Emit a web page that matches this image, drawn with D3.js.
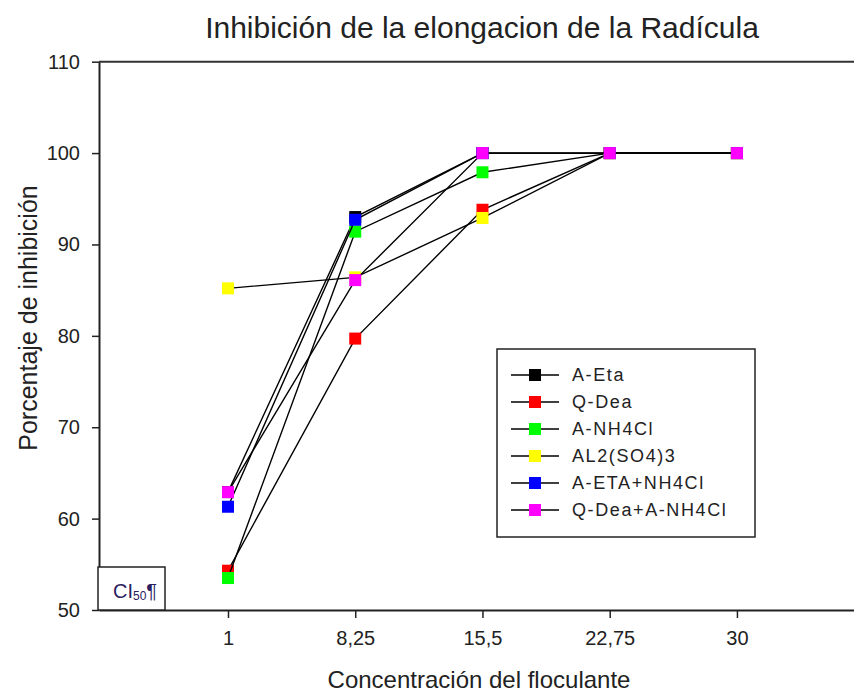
<!DOCTYPE html>
<html><head><meta charset="utf-8">
<script src="https://cdn.jsdelivr.net/npm/d3@7"></script>
<style>body{margin:0;background:#fff}svg{display:block}text{font-family:"Liberation Sans",Arial,sans-serif}</style>
</head><body>
<svg id="c" width="854" height="695"></svg>
<script>
const xValues = [1, 8.25, 15.5, 22.75, 30];
const xTickLabels = ["1", "8,25", "15,5", "22,75", "30"];
const yTicks = [50, 60, 70, 80, 90, 100, 110];
const seriesNames = ["A-Eta", "Q-Dea", "A-NH4Cl", "AL2(SO4)3", "A-ETA+NH4Cl", "Q-Dea+A-NH4Cl"];
const legendLabels = ["A-Eta", "Q-Dea", "A-NH4Cl", "AL2(SO4)3", "A-ETA+NH4Cl", "Q-Dea+A-NH4Cl"];
const seriesColors = ["#000000", "#ff0000", "#00ff00", "#ffff00", "#0000ff", "#ff00ff"];
const aEta = [62.9, 93.0, 100, 100, 100];
const qDea = [54.3, 79.7, 93.8, 100, 100];
const aNH4Cl = [53.5, 91.4, 97.9, 100, 100];
const al2SO43 = [85.2, 86.4, 92.9, 100, 100];
const aEtaNH4Cl = [61.3, 92.7, 100, 100, 100];
const qDeaANH4Cl = [62.9, 86.1, 100, 100, 100];
const seriesValues = [aEta, qDea, aNH4Cl, al2SO43, aEtaNH4Cl, qDeaANH4Cl];

const svg = d3.select("#c");
const x = d3.scaleLinear().domain([-6.35, 36.67]).range([99, 854]);
const y = d3.scaleLinear().domain([50, 110]).range([610, 61.7]);

// title
svg.append("text").attr("x", 482).attr("y", 38).attr("text-anchor", "middle")
  .attr("font-size", 30).attr("fill", "#222")
  .text("Inhibición de la elongacion de la Radícula");

// top frame line
svg.append("line").attr("x1", x.range()[0]).attr("x2", x.range()[1])
  .attr("y1", y(110)).attr("y2", y(110)).attr("stroke", "#333").attr("stroke-width", 2);

// axes
const xAxis = d3.axisBottom(x).tickValues(xValues).tickFormat((d, i) => xTickLabels[i])
  .tickSizeInner(8).tickSizeOuter(0).tickPadding(13);
const gx = svg.append("g").attr("transform", `translate(0,${y(50)})`).call(xAxis);
gx.select(".domain").attr("stroke", "#222").attr("stroke-width", 2);
gx.selectAll(".tick line").attr("stroke", "#222").attr("stroke-width", 1.5);
gx.selectAll("text").attr("font-size", 20).attr("fill", "#222")
  .attr("font-family", "'Liberation Sans',Arial,sans-serif");

const yAxis = d3.axisLeft(y).tickValues(yTicks).tickSizeInner(7).tickSizeOuter(0).tickPadding(12);
const gy = svg.append("g").attr("transform", `translate(${x.range()[0]},0)`).call(yAxis);
gy.select(".domain").attr("stroke", "#222").attr("stroke-width", 2);
gy.selectAll(".tick line").attr("stroke", "#222").attr("stroke-width", 1.5);
gy.selectAll("text").attr("font-size", 20).attr("fill", "#222")
  .attr("font-family", "'Liberation Sans',Arial,sans-serif");

// axis titles
svg.append("text").attr("x", 479).attr("y", 688).attr("text-anchor", "middle")
  .attr("font-size", 24).attr("fill", "#222").text("Concentración del floculante");
svg.append("text").attr("transform", "translate(37,318) rotate(-90)").attr("text-anchor", "middle")
  .attr("font-size", 25).attr("fill", "#222").text("Porcentaje de inhibición");

// series
const line = d3.line().x((d, i) => x(xValues[i])).y(d => y(d));
const ms = 12;
seriesValues.forEach((vals, si) => {
  const g = svg.append("g");
  g.append("path").attr("d", line(vals)).attr("fill", "none").attr("stroke", "#000").attr("stroke-width", 1.4);
  g.selectAll("rect").data(vals).join("rect")
    .attr("x", (d, i) => x(xValues[i]) - ms / 2).attr("y", d => y(d) - ms / 2)
    .attr("width", ms).attr("height", ms).attr("fill", seriesColors[si]);
});

// legend
const lg = svg.append("g");
lg.append("rect").attr("x", 497).attr("y", 349).attr("width", 258).attr("height", 188)
  .attr("fill", "#fff").attr("stroke", "#222").attr("stroke-width", 1.5);
legendLabels.forEach((lab, i) => {
  const ly = 375 + i * 27;
  lg.append("line").attr("x1", 511).attr("x2", 559).attr("y1", ly).attr("y2", ly).attr("stroke", "#000").attr("stroke-width", 1.4);
  lg.append("rect").attr("x", 535 - ms / 2).attr("y", ly - ms / 2).attr("width", ms).attr("height", ms).attr("fill", seriesColors[i]);
  lg.append("text").attr("x", 572).attr("y", ly).attr("dy", "0.36em").attr("font-size", 18)
    .attr("letter-spacing", 1.6).attr("fill", "#222").text(lab);
});

// CI50 box
svg.append("rect").attr("x", 98).attr("y", 567).attr("width", 67).attr("height", 43)
  .attr("fill", "#fff").attr("stroke", "#222").attr("stroke-width", 1.5);
const ci = svg.append("text").attr("x", 113).attr("y", 598).attr("font-size", 20).attr("fill", "#2a2060");
ci.append("tspan").text("CI");
ci.append("tspan").attr("font-size", 12).attr("dy", 2).text("50");
ci.append("tspan").attr("dy", -2).text("¶");
</script>
</body></html>
